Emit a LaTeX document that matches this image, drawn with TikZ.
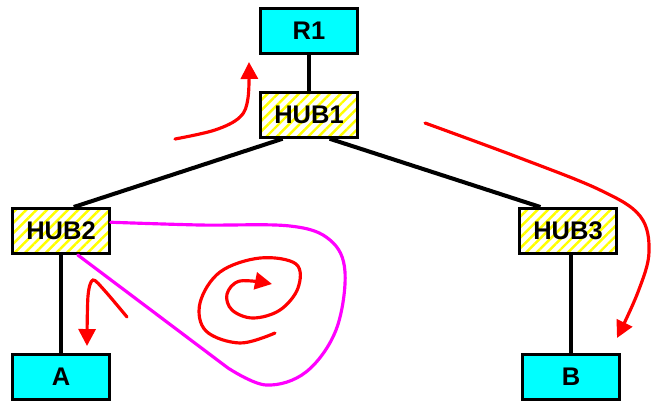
\documentclass[tikz,border=0pt]{standalone}
\usepackage{fontspec}
\setmainfont{Liberation Sans}
\usepackage{tikz}
\usetikzlibrary{arrows.meta,positioning,patterns.meta}
\usepackage{xcolor}
\definecolor{BoxCyan}{RGB}{0,255,255}
\definecolor{HubYellow}{RGB}{255,255,0}
\definecolor{PathRed}{RGB}{255,0,0}
\definecolor{LoopMagenta}{RGB}{255,0,255}
\tikzset{
  hostbox/.style={draw=black,line width=1.7pt,fill=BoxCyan,inner sep=0pt,
    minimum width=1.93cm,minimum height=0.9cm,align=center,
    font=\fontsize{14.5}{17}\selectfont\bfseries},
  hubbox/.style={hostbox,fill=white,
    pattern={Lines[angle=45,distance=4.2pt,line width=1.4pt]},pattern color=HubYellow},
  cable/.style={line width=2.3pt,draw=black},
  trafficarrow/.style={-{Triangle[length=3.4mm,width=3.4mm]},
    line width=1.8pt,draw=PathRed,line cap=round},
  loopline/.style={line width=1.8pt,draw=LoopMagenta,line cap=round},
}
\begin{document}
\begin{tikzpicture}[x=0.02cm,y=-0.02cm]
\useasboundingbox (0,0) rectangle (651,403);
\node[hostbox] (r1) at (309,31) {R1};
\node[hubbox] (hub1) at (309,115) {HUB1};
\node[hubbox] (hub2) at (61,231) {HUB2};
\node[hubbox] (hub3) at (568,231) {HUB3};
\node[hostbox] (a) at (61,377) {A};
\node[hostbox] (b) at (571,377) {B};
\draw[cable] (r1.south) -- (hub1.north);
\draw[cable] (hub1.222) -- (hub2.62);
\draw[cable] (hub1.311) -- (hub3.139);
\draw[cable] (hub2.south -| a.north) -- (a.north);
\draw[cable] (hub3.south -| b.north) -- (b.north);
\draw[loopline] plot[smooth,tension=0.6] coordinates {(hub2.10) (200,225) (290,226) (330,240) (345,272) (336,330) (306,372) (266,385) (228,368)} -- (hub2.305);
\draw[trafficarrow] plot[smooth,tension=0.6] coordinates {(175,139) (215,130) (240,117) (248,98) (249,62)};
\draw[trafficarrow] plot[smooth,tension=0.6] coordinates {(425,123) (520,158) (600,190) (640,216) (649,252) (638,292) (617,338)};
\draw[trafficarrow] plot[smooth,tension=0.5] coordinates {(127,317) (105,291) (93,280) (88,296) (87,346)};
\draw[trafficarrow] plot[smooth,tension=0.6] coordinates {(275,333) (240,343) (206,331) (200,303) (220,272) (260,258) (296,264) (298,288) (280,310) (253,318) (232,310) (227,294) (240,281) (272,284)};
\end{tikzpicture}
\end{document}
